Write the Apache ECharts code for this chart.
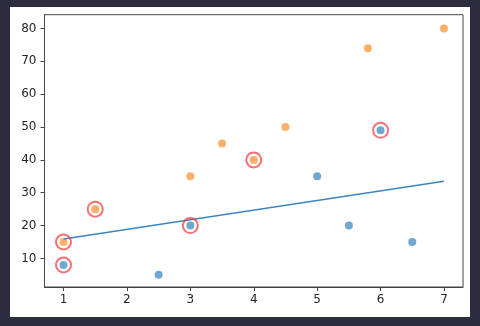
<!DOCTYPE html>
<html>
<head>
<meta charset="utf-8">
<script src="https://cdn.jsdelivr.net/npm/echarts@6/dist/echarts.min.js"></script>
<style>
html,body{margin:0;padding:0;width:480px;height:326px;background:#2b2d3e;overflow:hidden;}
#c{position:absolute;left:10px;top:7px;width:460px;height:310px;background:#fff;}
</style>
</head>
<body>
<div id="c"></div>
<script>
var blueX = [1, 2.5, 3, 5, 5.5, 6, 6.5];
var blueY = [8, 5, 20, 35, 20, 49, 15];
var orangeX = [1, 1.5, 3, 3.5, 4, 4.5, 5.8, 7];
var orangeY = [15, 25, 35, 45, 40, 50, 74, 80];
var lineX = [1, 7];
var lineY = [15.9, 33.5];
var circX = [1, 1, 1.5, 3, 4, 6];
var circY = [8, 15, 25, 20, 40, 49];
var xTicks = [1, 2, 3, 4, 5, 6, 7];
var yTicks = [10, 20, 30, 40, 50, 60, 70, 80];

function zip(a, b) { return a.map(function (v, i) { return [v, b[i]]; }); }

var chart = echarts.init(document.getElementById('c'), null, {renderer: 'canvas'});
var lbl = {color: '#262626', fontSize: 12, fontFamily: 'DejaVu Sans'};
chart.setOption({
  backgroundColor: '#fff',
  animation: false,
  grid: {left: 34.5, top: 7.7, right: 7, bottom: 30, show: true, borderColor: '#444', borderWidth: 1, backgroundColor: 'transparent'},
  xAxis: {
    type: 'value', min: 0.7, max: 7.3,
    splitLine: {show: false},
    axisLine: {show: true, lineStyle: {color: '#444', width: 1}},
    axisTick: {show: true, length: 4, inside: false, customValues: xTicks, lineStyle: {color: '#444'}},
    axisLabel: Object.assign({margin: 7, customValues: xTicks}, lbl)
  },
  yAxis: {
    type: 'value', min: 1.3, max: 84.2,
    splitLine: {show: false},
    axisLine: {show: true, lineStyle: {color: '#444', width: 1}},
    axisTick: {show: true, length: 4, inside: false, customValues: yTicks, lineStyle: {color: '#444'}},
    axisLabel: Object.assign({margin: 8, customValues: yTicks}, lbl)
  },
  series: [
    {type: 'scatter', data: zip(blueX, blueY), symbolSize: 8, itemStyle: {color: 'rgba(31,119,180,0.8)'}, z: 2},
    {type: 'scatter', data: zip(orangeX, orangeY), symbolSize: 8, itemStyle: {color: 'rgba(255,127,14,0.78)'}, z: 2},
    {type: 'line', data: zip(lineX, lineY), symbol: 'none', lineStyle: {color: '#3a86c2', width: 1.6}, z: 3},
    {type: 'scatter', data: zip(circX, circY), symbolSize: 15, itemStyle: {color: 'rgba(0,0,0,0)', borderColor: 'rgba(255,35,35,0.82)', borderWidth: 2}, z: 4}
  ]
});
</script>
</body>
</html>
